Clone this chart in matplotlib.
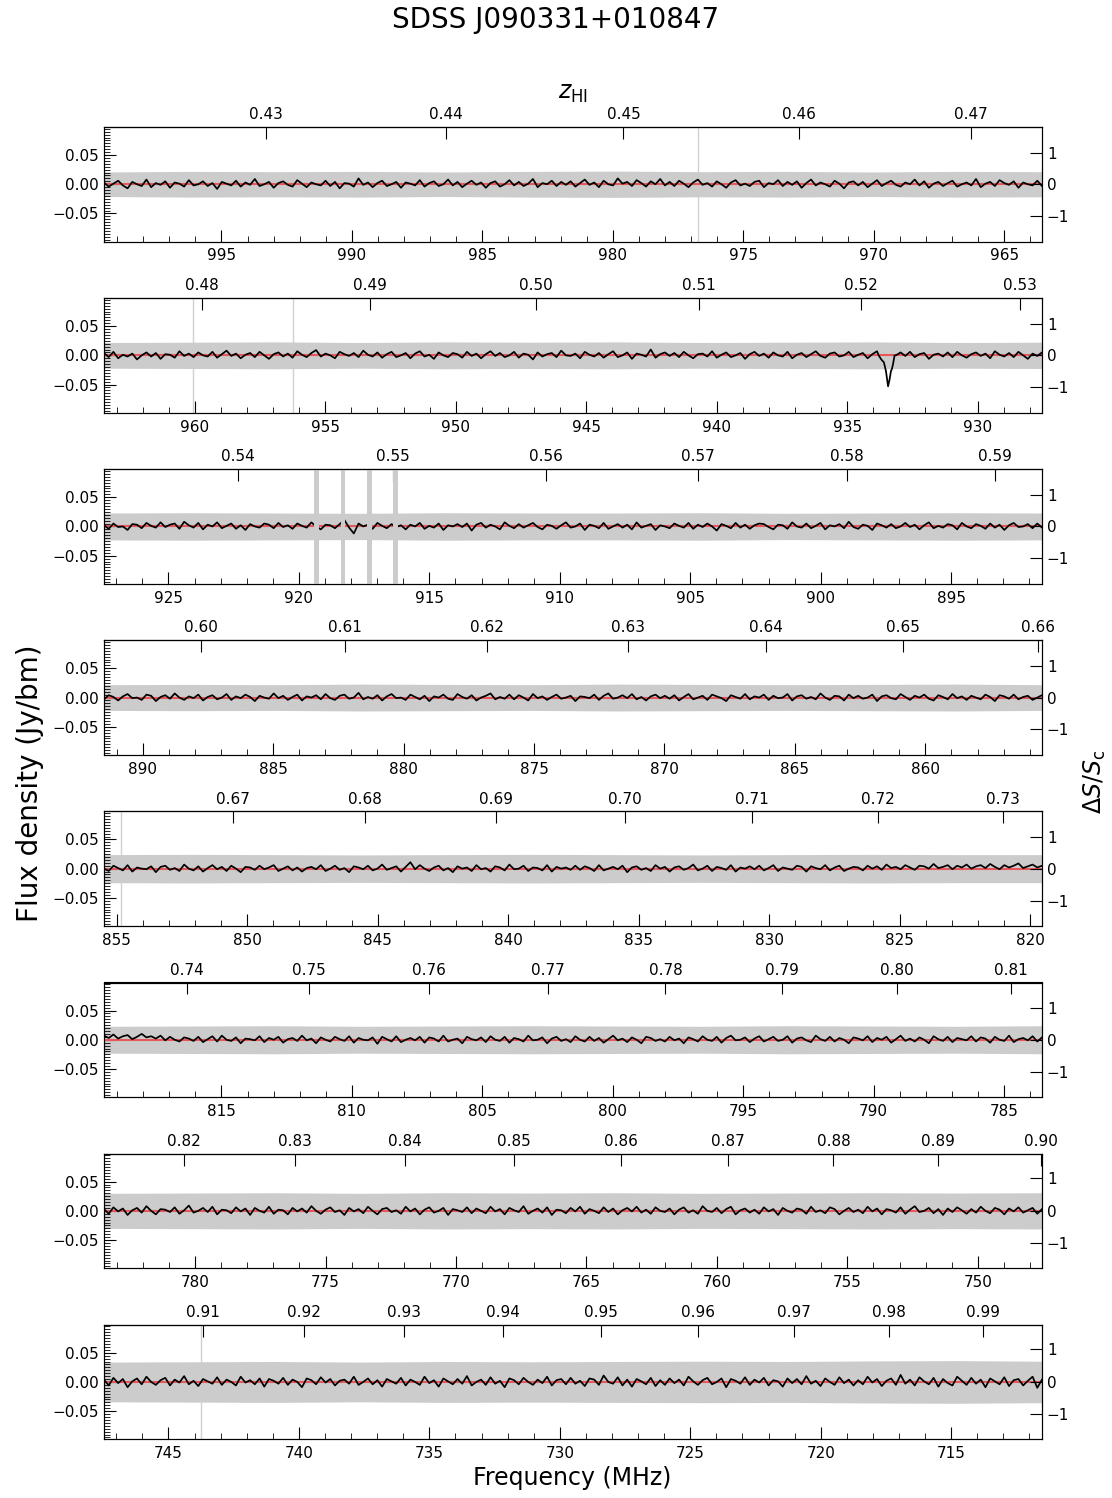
import numpy as np
import matplotlib.pyplot as plt
from matplotlib.ticker import MultipleLocator, NullLocator, FixedLocator

HI_REST = 1420.405752  # MHz

# frequency limits of each panel (MHz), high -> low
f_start = [999.50, 963.48, 927.47, 891.48, 855.49, 819.50, 783.49, 747.47]
f_stop = [963.55, 927.53, 891.52, 855.53, 819.54, 783.55, 747.54, 711.52]

# continuum flux density per panel (Jy) for the right hand axis
s_cont = [0.0538, 0.0540, 0.0543, 0.0545, 0.0548, 0.0551, 0.0554, 0.0557]

# spectra per panel (mJy), channels run from f_start to f_stop
spec_1 = [3, -4, 1, 6, -2, -7, 4, 0, -3, 8, -5, 2, -1, 5, -6, 3, 1, -4, 7, -2,
          0, 5, -3, 2, -8, 4, 1, -2, 6, -4, 3, -1, 9, -3, 0, 4, -6, 2, 5, -1,
          -4, 7, 1, -5, 3, 0, -2, 6, -3, 4, -7, 2, 1, -4, 10, -1, 3, -5, 2, 6,
          -3, 0, 4, -6, 3, 1, -2, 7, -4, 2, 5, -3, 0, 8, -2, 4, -5, 1, 6, -1,
          3, -6, 2, 5, -4, 0, 7, -2, 4, -3, 1, 9, -5, 2, 0, 6, -3, 4, -1, 5,
          -4, 2, 8, -1, 3, -5, 6, 0, -2, 10, 1, 4, -3, 7, 2, -4, 5, 0, 9, -2,
          4, -3, 6, 1, -5, 3, 8, -1, 2, -4, 5, 0, -6, 3, 7, -2, 1, -3, 4, 6,
          -5, 2, 0, 7, -3, 4, -1, 5, -6, 2, 8, -2, 3, 0, -4, 6, 1, -7, 3, 5,
          -2, 4, -5, 1, 7, -3, 2, 6, -1, -4, 3, 0, 8, -2, 5, -6, 1, 4, -3, 2,
          6, -4, 0, 3, -2, 9, -5, 1, 4, -3, 7, 2, -1, 5, -6, 3, 0, -2, 6, -3]
spec_2 = [4, -3, 6, -5, 1, -2, 3, -7, 0, 5, -2, 4, -6, 2, 1, -4, 7, -1, 3, -3,
          5, 0, -2, 6, -4, 2, 8, -1, 3, -5, 1, 4, -3, 6, 0, -6, 2, 5, -2, 3,
          -4, 7, 1, -3, 4, 9, -2, 3, 0, -5, 6, 2, -1, 4, -3, 8, 1, -2, 5, -4,
          2, 6, -3, 0, 4, -5, 3, 7, -2, 1, -6, 5, 0, -3, 4, 2, -4, 6, -1, 3,
          -5, 2, 7, -1, 4, -3, 0, 6, -4, 3, 1, -7, 5, -2, 2, 4, -3, 8, 0, -1,
          3, -5, 6, 1, -2, 4, -4, 2, 7, -3, 0, 5, -6, 3, 1, -2, 10, -4, 2, 5,
          -1, 4, -3, 6, 0, -5, 2, 3, -2, 7, -4, 1, 5, -3, 0, 4, -6, 2, 6, -1,
          3, -4, 5, 0, -2, 6, -5, 1, 4, -3, 2, 7, -1, -4, 3, 5, -2, 0, 6, -3,
          1, 4, -5, 2, 7, -2, 3, -4, 0, 5, -1, 6, -3, 2, 4, -6, 1, 3, -2, 5,
          -3, 6, 0, -4, 2, 5, -1, 3, -5, 7, 1, -2, 4, -3, 6, 0, -6, 3, -1, 5]
spec_3 = [2, -4, 5, -1, 0, -6, 4, 3, -3, 6, 1, -2, 7, -1, 3, 5, -4, 8, 2, -2,
          6, -5, 3, 0, 7, -3, 1, 5, -4, 2, -6, 4, 0, -2, 5, 3, -3, 6, -1, 2,
          -4, 5, 1, -2, 7, 0, -5, 3, 2, -3, 4, 11, -2, -12, 5, 0, 3, -4, 6, 1,
          -3, 4, -1, 2, -5, 3, 0, 6, -4, 1, -2, 5, -6, 2, 0, 4, -1, 5, -7, 3,
          6, -2, 3, 0, -5, 7, 1, -3, 4, -2, 2, 6, -1, -5, 3, 1, -4, 2, 7, -2,
          0, 5, -6, 3, 1, -3, 6, -4, 0, 4, -2, 3, -5, 7, -2, 1, 4, -6, 2, 0,
          -3, 5, 1, -2, 6, -4, 3, -1, 5, 0, -7, 4, 1, -3, 6, -2, 3, -4, 2, 5,
          4, -1, -5, 3, 2, -4, 7, 0, -2, 5, -3, 1, 6, -5, 2, 0, 4, -3, 8, -1,
          -4, 3, 1, -6, 5, 2, -2, 4, -3, 0, 6, -1, 3, -5, 2, 7, -3, 1, -2, 4,
          2, -5, 6, 0, -3, 4, 1, -4, 5, -2, 3, -6, 2, 6, -1, 0, 4, -3, 5, -2]
spec_4 = [-3, 4, 1, -5, 2, 6, -1, 0, -4, 5, 3, -6, 1, 4, -2, 7, 0, -4, 2, -1,
          5, -5, 1, 4, -3, 0, 6, -4, 2, -1, 5, 1, -6, 3, 0, -2, 7, -1, 3, -4,
          1, 5, -5, 2, 0, 4, -3, 6, -1, -4, 3, 5, -2, 0, 8, -3, 1, -2, 4, -5,
          2, 6, -1, 0, -4, 5, 1, -3, 3, -6, 2, 0, 5, -2, -4, 6, 1, -2, 4, -5,
          0, 3, 7, -3, 1, -2, 5, -3, 4, 0, -5, 6, -1, 2, -4, 1, 5, -2, 0, 3,
          -6, 2, 1, -1, 5, -4, 3, 7, -2, 0, 4, -1, 6, -3, 1, -5, 2, 5, -1, 3,
          -2, 4, -5, 1, 6, -3, 0, 3, -4, 5, 2, -1, -6, 4, 1, -2, 6, -3, 2, 0,
          5, -4, 3, -1, 0, 6, -5, 2, 4, -2, 1, -3, 7, 0, -4, 3, 2, -5, 5, -1,
          3, -2, 0, 5, -6, 2, 4, -1, -3, 6, 1, -4, 3, 0, 5, -2, -5, 4, 1, -3,
          6, -1, 2, -4, 3, 0, -3, 5, 1, -6, 4, 2, -2, 5, -3, 1, 3, -4, 0, 4]
spec_5 = [0, -4, 5, 1, -3, 6, -5, 2, 0, -1, 4, -6, 3, 5, -2, 1, -4, 7, 0, -3,
          4, -5, 1, 6, -1, 3, -4, 5, 0, -6, 3, 2, -2, 5, -1, 2, 6, -4, 0, 4,
          -3, 2, -5, 1, 3, -1, 6, -4, 0, 5, -2, 1, -6, 4, 2, -1, 5, -3, 0, 7,
          -2, 1, 4, -5, 3, 11, -1, 6, 0, -4, 2, 5, -3, 1, -6, 4, 0, 2, -4, 6,
          -1, 1, -5, 4, 2, -3, 7, -1, 0, 5, -4, 2, 1, -3, 6, -5, 3, 0, 2, -2,
          5, -2, 4, 1, -4, 6, -3, 0, 3, -1, 5, -6, 2, 4, -2, 1, -4, 6, 0, 3,
          -5, 2, 4, -2, 1, 7, -3, 0, 5, -4, 3, 1, -2, 6, -5, 2, 0, 4, -1, 5,
          -3, 1, 6, -4, 2, 0, -2, 5, 3, -5, 4, 1, -1, 6, -3, 2, 5, -4, 0, 3,
          2, -3, 5, 0, 4, -2, 7, 1, 3, -1, 6, 2, -2, 5, 4, 0, 8, 1, 3, 6,
          -1, 5, 2, 7, 0, 4, 6, 1, 8, 3, -1, 6, 2, 5, 9, 1, 4, 7, 2, 5]
spec_6 = [7, 3, 9, 2, 6, 8, 1, 5, 10, 4, 6, 2, 7, -1, 5, 0, -3, 4, 2, -2,
          5, -4, 1, 6, -3, 7, 0, -2, 4, -6, 2, 1, -1, 6, -4, 3, 0, 5, -5, 1,
          3, -2, 7, -1, 2, -6, 4, 0, -3, 5, 1, -2, 6, -5, 3, 0, -1, 4, -7, 5,
          1, -3, 6, -4, 0, 3, -1, 5, -5, 4, 2, -3, 7, -3, 0, 2, -6, 5, 1, -1,
          4, -4, 6, 0, -2, 5, -5, 3, 1, -3, 7, -1, 0, 4, -6, 2, 5, -2, 1, -4,
          6, 0, -3, 5, -2, 3, -5, 1, 7, -1, 2, -4, 4, 0, -6, 5, 3, -2, 1, -3,
          5, -1, 2, -6, 4, 1, -3, 6, 0, -2, 5, -5, 3, 7, -1, 0, 4, -4, 2, 6,
          -3, 1, 5, -2, 0, 6, -5, 2, 4, -1, -4, 7, 1, -2, 5, -3, 3, 0, -6, 4,
          2, -1, 6, -4, 3, 0, 5, -5, 1, 7, -2, 2, -3, 4, 0, -6, 6, 1, -2, 5,
          -4, 3, 1, -1, 6, -3, 4, 2, -5, 5, 0, -2, 7, -4, 1, 3, -1, 6, -3, 4]
spec_7 = [3, -5, 6, -1, 4, -7, 1, 5, -3, 8, 0, -6, 3, 2, -2, 6, -5, 1, 9, -3,
          0, 5, -2, 7, -6, 2, 1, -4, 6, -1, 4, -7, 5, 0, -3, 7, -5, 2, 1, -6,
          5, -1, 4, -3, 8, 0, -5, 2, 6, -2, 1, -7, 5, -1, 3, -4, 7, 0, -6, 3,
          5, -2, 1, -5, 7, -1, 4, -6, 2, 6, -3, 0, 5, -7, 3, 1, -2, 6, -4, 4,
          0, -4, 7, -1, 3, -6, 5, 1, -2, 8, -5, 0, 4, -3, 6, -7, 2, 1, -4, 5,
          -1, 7, -5, 3, 0, -4, 6, -2, 4, -6, 1, 5, -1, 7, -3, 2, -5, 6, 0, -2,
          4, -6, 2, 6, -3, 1, -5, 8, 0, -2, 5, -4, 3, 7, -6, 1, 4, -3, 2, -5,
          6, -1, 3, -7, 5, 0, -3, 4, 2, -5, 7, -2, 1, -4, 6, 3, -6, 0, 5, -2,
          2, -4, 7, -1, 4, -6, 3, 1, -3, 6, -5, 2, 8, -2, 0, 5, -4, 3, -7, 4,
          -2, 6, 1, -5, 3, -3, 7, 0, -4, 5, 2, -6, 4, -1, 6, -3, 1, 5, -5, 3]
spec_8 = [4, -6, 7, -2, 5, -9, 1, 6, -4, 9, 0, -5, 3, 7, -6, 4, -1, 10, -4, 2,
          -7, 5, 1, -3, 8, -5, 4, 0, -6, 9, -1, 3, -4, 6, -8, 5, 2, -3, 7, -5,
          4, 0, -9, 6, 3, -4, 8, -1, 5, -6, 2, 4, -3, 9, -5, 0, 6, -4, 3, -8,
          5, 1, -3, 7, -6, 4, 0, -5, 9, -2, 3, -8, 6, 1, -4, 5, -3, 10, -6, 0,
          4, -5, 8, -3, 2, -9, 6, 3, -4, 7, 0, -5, 4, -2, 9, -6, 3, 5, -4, 7,
          -3, 2, -7, 6, 4, -5, 11, 0, -3, 8, -6, 4, -8, 5, 1, -4, 7, -7, 3, -5,
          6, -2, 4, -6, 9, 1, -5, 3, 7, -4, 0, 6, -9, 5, 2, -3, 8, -5, 4, -1,
          7, -6, 3, 1, -8, 6, -2, 5, -4, 10, -3, 2, -7, 6, 0, -5, 8, -2, 4, -6,
          3, -4, 9, -1, 5, -7, 2, 6, -5, 12, -3, 4, -6, 8, 1, -4, 7, -8, 5, -2,
          -6, 9, 2, -5, 7, -3, 4, -9, 6, 1, -4, 8, -7, 3, 5, -6, 2, 9, -10, 4]
spectra = [spec_1, spec_2, spec_3, spec_4, spec_5, spec_6, spec_7, spec_8]

# HI absorption line in panel 2 (MHz, mJy)
abs_freq = [933.79, 933.69, 933.59, 933.51, 933.43, 933.37, 933.32, 933.28, 933.24, 933.18]
abs_flux = [0, -7, -12, -27, -53, -41, -27, -23, -15, 0]

# noise envelope (half width, mJy), evenly spread over each panel
noise_1 = [21, 22, 21.5, 22, 21, 22, 22.5, 21.5, 22, 21, 22, 21.5]
noise_2 = [22, 22.5, 23, 22, 23, 22.5, 23, 22, 22.5, 23, 22, 22.5]
noise_3 = [23, 23.5, 23, 22.5, 23.5, 23, 23, 23.5, 22.5, 23, 23.5, 23]
noise_4 = [22, 22.5, 22, 23, 22.5, 22, 23, 22.5, 22, 22.5, 23, 22]
noise_5 = [24, 24.5, 24, 23.5, 24, 24.5, 24, 23.5, 24, 24.5, 24, 24]
noise_6 = [23, 23.5, 24, 23, 23.5, 24, 23.5, 23, 24, 23.5, 23, 24]
noise_7 = [30, 30.5, 31, 30, 31, 30.5, 31, 30, 30.5, 31, 30.5, 31]
noise_8 = [34, 34.5, 35, 34, 35, 34.5, 35, 35.5, 35, 36, 36.5, 35.5]
noise = [noise_1, noise_2, noise_3, noise_4, noise_5, noise_6, noise_7, noise_8]

# flagged channels: thin lines (panel index, MHz) and broad RFI bars in panel 3
flag_panel = [0, 1, 1, 4, 7]
flag_freq = [976.72, 960.05, 956.22, 854.85, 743.75]
rfi_freq = [919.33, 918.31, 917.30, 916.31]


def f2z(f):
    f = np.asarray(f, dtype=float)
    with np.errstate(divide='ignore', invalid='ignore'):
        return HI_REST / f - 1.0


def z2f(z):
    z = np.asarray(z, dtype=float)
    with np.errstate(divide='ignore', invalid='ignore'):
        return HI_REST / (1.0 + z)


W, H = 1112, 1498
fig = plt.figure(figsize=(W / 100, H / 100), dpi=100)

ymax = 0.098
tick_kw = dict(direction='in', labelsize=11)

for i in range(8):
    top = 127 + 171.1 * i
    ax = fig.add_axes([104 / W, 1 - (top + 114.5) / H, 938 / W, 114.5 / H])

    y = np.array(spectra[i]) / 1000.0
    x = np.linspace(f_start[i], f_stop[i], len(y))
    if i == 1:
        keep = (x > abs_freq[0]) | (x < abs_freq[-1])
        x = np.concatenate([x[keep], abs_freq])
        y = np.concatenate([y[keep], np.array(abs_flux) / 1000.0])
        order = np.argsort(x)[::-1]
        x, y = x[order], y[order]

    sig = np.array(noise[i]) / 1000.0
    xs = np.linspace(f_start[i], f_stop[i], len(sig))
    ax.fill_between(xs, -sig, sig, color='0.8', lw=0, zorder=1)
    ax.axhline(0, color='#e8585a', lw=1.5, zorder=2)
    ax.plot(x, y, color='k', lw=1.25, zorder=3)

    for p, f in zip(flag_panel, flag_freq):
        if p == i:
            ax.axvline(f, color='0.82', lw=1.0, zorder=0.5)
    if i == 2:
        for f in rfi_freq:
            ax.axvspan(f - 0.09, f + 0.09, color='0.8', lw=0, zorder=4)

    ax.set_xlim(f_start[i], f_stop[i])
    ax.set_ylim(-ymax, ymax)
    ax.xaxis.set_major_locator(MultipleLocator(5))
    ax.xaxis.set_minor_locator(MultipleLocator(1))
    ax.yaxis.set_minor_locator(MultipleLocator(0.005))
    ax.tick_params(which='major', length=8.5, top=False, right=False, **tick_kw)
    ax.tick_params(axis='x', which='major', pad=5)
    ax.tick_params(which='minor', length=4.5, direction='in', top=False, right=False)
    ax.set_yticks([-0.05, 0.0, 0.05])
    ax.set_yticklabels(['\u22120.05', '0.00', '0.05'])

    ax2 = ax.twinx()
    ax2.set_ylim(-ymax / s_cont[i], ymax / s_cont[i])
    ax2.set_yticks([-1, 0, 1])
    ax2.yaxis.set_minor_locator(NullLocator())
    ax2.tick_params(which='major', length=8.5, **tick_kw)

    # redshift ticks that fall inside the panel
    z_lo, z_hi = f2z(f_start[i]), f2z(f_stop[i])
    zt = np.arange(np.ceil(z_lo * 100), np.floor(z_hi * 100) + 1) / 100
    sec = ax.secondary_xaxis('top', functions=(f2z, z2f))
    sec.xaxis.set_major_locator(FixedLocator(zt))
    sec.xaxis.set_minor_locator(NullLocator())
    sec.set_xticklabels([f'{v:.2f}' for v in zt])
    sec.tick_params(which='major', length=8.5, **tick_kw)
    if i == 0:
        sec.set_xlabel(r'$z_{\rm HI}$', fontsize=17, labelpad=6)

fig.text(556 / W, 1 - 20 / H, 'SDSS J090331+010847', fontsize=20, ha='center', va='center')
fig.text(572 / W, 1 - 1478 / H, 'Frequency (MHz)', fontsize=17, ha='center', va='center')
fig.text(30 / W, 1 - 783 / H, 'Flux density (Jy/bm)', fontsize=20, rotation=90,
         ha='center', va='center')
fig.text(1095 / W, 1 - 782 / H, r'$\Delta S/S_{\rm c}$', fontsize=17, rotation=90,
         ha='center', va='center')

fig.savefig('out.png', dpi=100)
